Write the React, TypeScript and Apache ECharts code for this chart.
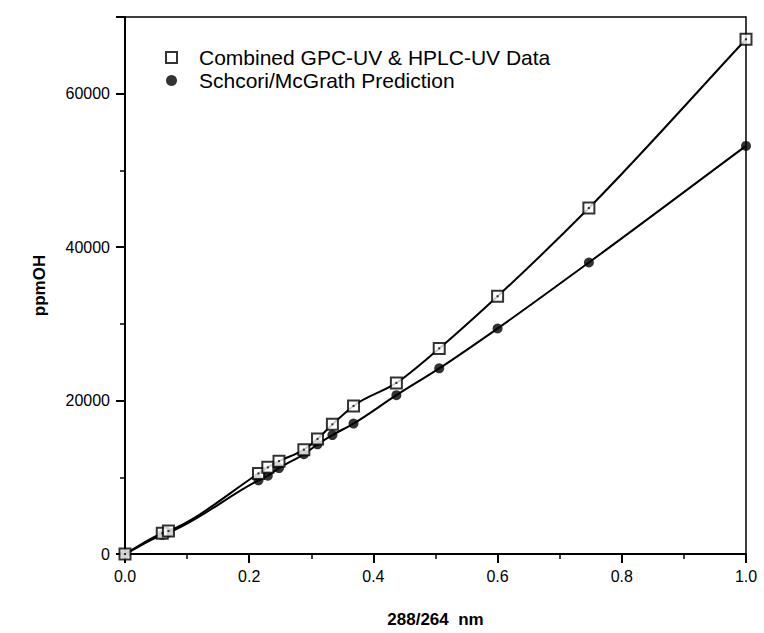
import React, { useEffect, useRef } from "react";
import * as echarts from "echarts";

const ratios = [0, 0.06, 0.07, 0.215, 0.23, 0.248, 0.288, 0.31, 0.334, 0.368, 0.437, 0.506, 0.6, 0.747, 1.0];
const combinedData = [0, 2700, 3000, 10500, 11300, 12100, 13600, 15000, 16900, 19300, 22300, 26800, 33600, 45100, 67100];
const predictionData = [0, 2500, 2800, 9600, 10200, 11200, 13000, 14300, 15500, 17000, 20700, 24200, 29400, 38000, 53200];
const seriesNames = ["Combined GPC-UV & HPLC-UV Data", "Schcori/McGrath Prediction"];
const xAxisTitle = "288/264  nm";
const yAxisTitle = "ppmOH";

const FONT = "'Liberation Sans', Arial, Helvetica, sans-serif";

// Smooth curve through the data points: each segment is a cubic Bezier whose
// control points come from weighted neighbour slopes, computed in pixel space via api.coord.
function curveSeries(ys: number[], z: number) {
  const pts = ratios.map((x, i) => [x, ys[i]]);
  return {
    type: "custom",
    silent: true,
    z,
    data: pts,
    encode: { x: 0, y: 1 },
    renderItem: (params: any, api: any) => {
      const i = params.dataIndex;
      const n = pts.length;
      if (i >= n - 1) return null;
      const P = (k: number) => api.coord(pts[k]);
      const slope = (a: number[], b: number[]) => (b[1] - a[1]) / (b[0] - a[0]);
      const tangent = (k: number) => {
        if (k === 0) return slope(P(0), P(1));
        if (k === n - 1) return slope(P(n - 2), P(n - 1));
        const a = P(k - 1), b = P(k), c = P(k + 1);
        const h0 = b[0] - a[0], h1 = c[0] - b[0];
        return (slope(a, b) * h1 + slope(b, c) * h0) / (h0 + h1);
      };
      const p1 = P(i);
      const p2 = P(i + 1);
      const m1 = tangent(i);
      const m2 = tangent(i + 1);
      const d = (p2[0] - p1[0]) / 3;
      return {
        type: "bezierCurve",
        shape: {
          x1: p1[0],
          y1: p1[1],
          x2: p2[0],
          y2: p2[1],
          cpx1: p1[0] + d,
          cpy1: p1[1] + m1 * d,
          cpx2: p2[0] - d,
          cpy2: p2[1] - m2 * d,
        },
        style: { stroke: "#000", lineWidth: 2, fill: null },
      };
    },
  };
}

export default function App() {
  const ref = useRef<HTMLDivElement>(null);
  useEffect(() => {
    if (!ref.current) return;
    const chart = echarts.init(ref.current, undefined, { renderer: "svg" });
    const sq = ratios.map((x, i) => [x, combinedData[i]]);
    const pr = ratios.map((x, i) => [x, predictionData[i]]);
    chart.setOption({
      animation: false,
      backgroundColor: "#fff",
      grid: {
        left: 125,
        right: 18,
        top: 17,
        bottom: 78,
        show: true,
        borderColor: "#000",
        borderWidth: 1.5,
        backgroundColor: "transparent",
      },
      legend: {
        orient: "vertical",
        left: 160,
        top: 42,
        itemGap: 2,
        itemWidth: 11,
        itemHeight: 11,
        selectedMode: false,
        textStyle: { fontFamily: FONT, fontSize: 21, color: "#000", padding: [0, 0, 0, 17] },
        data: [
          { name: seriesNames[0], icon: "rect", itemStyle: { color: "#fff", borderColor: "#000", borderWidth: 2 } },
          { name: seriesNames[1], icon: "circle", itemStyle: { color: "#000", borderWidth: 0 } },
        ],
      },
      xAxis: {
        type: "value",
        min: 0,
        max: 1,
        interval: 0.2,
        name: xAxisTitle,
        nameLocation: "middle",
        nameGap: 57,
        nameTextStyle: { fontFamily: FONT, fontSize: 17, fontWeight: "bold", color: "#000" },
        axisLine: { show: true, lineStyle: { color: "#000", width: 2 } },
        axisTick: { show: true, inside: false, length: 9, lineStyle: { color: "#000", width: 2 } },
        minorTick: { show: true, splitNumber: 2, length: 5, lineStyle: { color: "#000", width: 1.5 } },
        splitLine: { show: false },
        axisLabel: {
          fontFamily: FONT,
          fontSize: 16,
          color: "#000",
          margin: 14,
          formatter: (v: number) => v.toFixed(1),
        },
      },
      yAxis: {
        type: "value",
        min: 0,
        max: 70000,
        interval: 20000,
        name: yAxisTitle,
        nameLocation: "middle",
        nameGap: 77,
        nameTextStyle: { fontFamily: FONT, fontSize: 17, fontWeight: "bold", color: "#000" },
        axisLine: { show: true, lineStyle: { color: "#000", width: 2 } },
        axisTick: { show: true, inside: false, length: 9, lineStyle: { color: "#000", width: 2 } },
        minorTick: { show: true, splitNumber: 2, length: 5, lineStyle: { color: "#000", width: 1.5 } },
        splitLine: { show: false },
        axisLabel: {
          fontFamily: FONT,
          fontSize: 16,
          color: "#000",
          margin: 15,
          showMaxLabel: false,
          formatter: (v: number) => String(v),
        },
      },
      series: [
        curveSeries(predictionData, 1),
        curveSeries(combinedData, 1),
        {
          name: seriesNames[1],
          type: "scatter",
          data: pr,
          symbol: "circle",
          symbolSize: 10,
          itemStyle: { color: "#000" },
          z: 2,
        },
        {
          name: seriesNames[0],
          type: "scatter",
          data: sq,
          symbol: "rect",
          symbolSize: 11,
          itemStyle: { color: "#fff", borderColor: "#000", borderWidth: 2 },
          z: 3,
        },
        {
          name: "dots",
          type: "scatter",
          data: sq,
          symbol: "rect",
          symbolSize: 2,
          itemStyle: { color: "#000" },
          silent: true,
          z: 4,
        },
      ],
    });
    return () => chart.dispose();
  }, []);
  return (
    <div
      ref={ref}
      style={{ position: "fixed", left: 0, top: 0, width: 764, height: 633, background: "#fff" }}
    />
  );
}
